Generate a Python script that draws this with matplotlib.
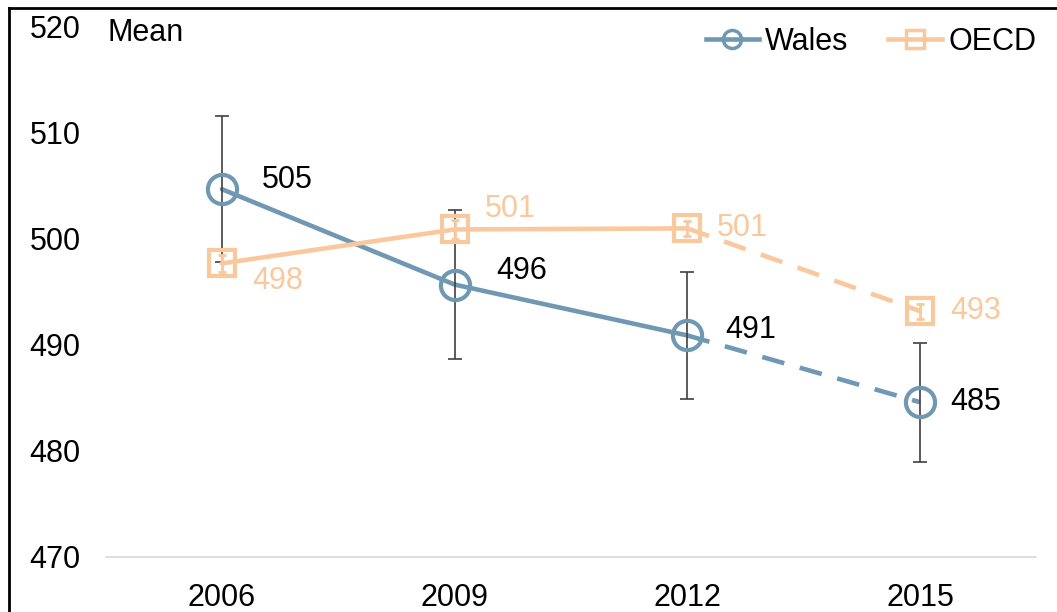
import matplotlib.pyplot as plt
from matplotlib.lines import Line2D

plt.rcParams['font.family'] = ['Liberation Sans', 'DejaVu Sans']

years = ['2006', '2009', '2012', '2015']
wales = [504.7, 495.7, 490.9, 484.6]
wales_err = [6.9, 7.0, 6.0, 5.6]
wales_labels = ['505', '496', '491', '485']
oecd = [497.7, 500.9, 501.0, 493.2]
oecd_err = [0.8, 0.9, 0.7, 0.7]
oecd_labels = ['498', '501', '501', '493']

blue = '#7098B2'
orange = '#F9C89D'

# label offsets in pixels (dx, dy)
wales_off = [(40, 9), (42, 14), (38, 5), (30, 0)]
oecd_off = [(30, -18), (30, 20), (29, 0), (30, 0)]

fig = plt.figure(figsize=(10.57, 6.12), dpi=100)
ax = fig.add_axes([105.5 / 1057, 1 - 557 / 612, 931 / 1057, 530 / 612])
x = list(range(len(years)))
fs = 22

def draw(vals, errs, labels, offs, col, txtcol, z):
    ax.plot(x[:3], vals[:3], color=col, lw=3.3, zorder=z, solid_capstyle='round')
    ax.plot(x[2:], vals[2:], color=col, lw=3.3, zorder=z, dashes=(5, 3.5))
    ax.errorbar(x, vals, yerr=errs, fmt='none', ecolor='#404040' if col == blue else col,
                elinewidth=1.2 if col == blue else 2, capsize=5 if col == blue else 3,
                capthick=1.2 if col == blue else 2, zorder=z + 1)
    for xi, v, lab, (dx, dy) in zip(x, vals, labels, offs):
        ax.annotate(lab, (xi, v), xytext=(dx, dy), textcoords='offset pixels',
                    ha='left', va='center', fontsize=fs, color=txtcol, zorder=z + 2)

draw(wales, wales_err, wales_labels, wales_off, blue, 'black', 2)
ax.plot(x, wales, ls='none', marker='o', ms=21, mfc='none', mec=blue, mew=3, zorder=3)
draw(oecd, oecd_err, oecd_labels, oecd_off, orange, orange, 5)
ax.plot(x, oecd, ls='none', marker='s', ms=19, mfc='none', mec=orange, mew=3, zorder=6)

ax.set_xlim(-0.5, 3.5)
ax.set_ylim(470, 520)
ax.set_yticks(range(470, 521, 10))
ax.set_xticks(x)
ax.set_xticklabels(years)
ax.tick_params(axis='both', length=0, labelsize=fs)
ax.tick_params(axis='y', pad=18)
ax.tick_params(axis='x', pad=19)
for s in ['top', 'right', 'left']:
    ax.spines[s].set_visible(False)
ax.spines['bottom'].set_color('#D9D9D9')
ax.spines['bottom'].set_linewidth(1.2)

ax.text(108 / 1057, 1 - 33 / 612, 'Mean', transform=fig.transFigure, fontsize=fs,
        ha='left', va='center')

handles = [Line2D([], [], color=blue, lw=3.3, marker='o', ms=13, mfc='none', mec=blue, mew=2.5),
           Line2D([], [], color=orange, lw=3.3, marker='s', ms=13, mfc='none', mec=orange, mew=2.5)]
fig.legend(handles, ['Wales', 'OECD'], loc='center right',
           bbox_to_anchor=(1036 / 1057, 1 - 42 / 612), ncol=2, frameon=False, fontsize=fs,
           handlelength=1.75, handletextpad=0.2, columnspacing=1.3, borderpad=0,
           borderaxespad=0)

fig.add_artist(Line2D([8.5 / 1057, 8.5 / 1057], [0, 1 - 8 / 612], transform=fig.transFigure,
                      color='black', lw=2))
fig.add_artist(Line2D([8.5 / 1057, 1], [1 - 8 / 612, 1 - 8 / 612], transform=fig.transFigure,
                      color='black', lw=2))

fig.savefig('out.png', dpi=100)
